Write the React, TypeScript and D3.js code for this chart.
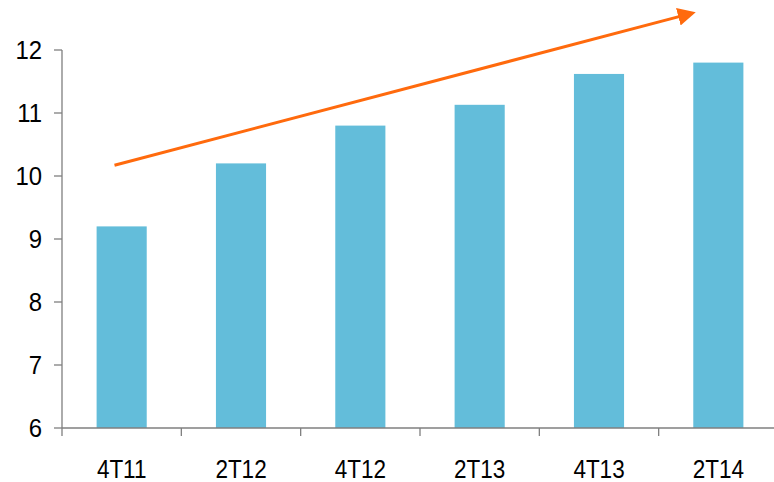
import React from 'react';
import * as d3 from 'd3';

const width = 774;
const height = 482;
const margin = { top: 50, right: -4, bottom: 54, left: 62 };

const categories = ['4T11', '2T12', '4T12', '2T13', '4T13', '2T14'];
const values = [9.2, 10.2, 10.8, 11.13, 11.62, 11.8];
const yTicks = [6, 7, 8, 9, 10, 11, 12];
// trend arrow, in (category index, value) units
const arrowFrom = [0.44, 10.17];
const arrowTo = [5.25, 12.57];

const barColor = '#63bdda';
const arrowColor = '#ff6a0d';
const axisColor = '#7f7f7f';
const font = 'Arial, "Liberation Sans", sans-serif';

export default function App() {
  const x = d3.scaleBand().domain(categories)
    .range([margin.left, width - margin.right]).paddingInner(0.58).paddingOuter(0.29);
  const y = d3.scaleLinear().domain([6, 12]).range([height - margin.bottom, margin.top]);
  const xi = d3.scaleLinear().domain([0, categories.length])
    .range([margin.left, width - margin.right]);

  const ax1 = xi(arrowFrom[0]), ay1 = y(arrowFrom[1]);
  const ax2 = xi(arrowTo[0]), ay2 = y(arrowTo[1]);

  const bottom = y(6);

  return (
    <svg width={width} height={height} style={{ position: 'absolute', left: 0, top: 0 }}>
      <defs>
        <marker id="head" markerWidth="6" markerHeight="6" refX="3.5" refY="3" orient="auto" markerUnits="strokeWidth">
          <path d="M0,0 L6,3 L0,6 Z" fill={arrowColor} />
        </marker>
      </defs>
      {categories.map((c, i) => (
        <rect key={c} x={x(c)} y={y(values[i])} width={x.bandwidth()} height={bottom - y(values[i])} fill={barColor} />
      ))}
      <g stroke={axisColor} strokeWidth={1.3}>
        <line x1={margin.left} x2={margin.left} y1={y(12)} y2={bottom} />
        <line x1={margin.left} x2={width} y1={bottom} y2={bottom} />
        {yTicks.map(t => (
          <line key={t} x1={margin.left - 8} x2={margin.left} y1={y(t)} y2={y(t)} />
        ))}
        {d3.range(categories.length + 1).map(i => (
          <line key={i} x1={xi(i)} x2={xi(i)} y1={bottom} y2={bottom + 8} />
        ))}
      </g>
      {yTicks.map(t => (
        <text key={t} transform={`translate(42,${y(t)}) scale(0.92,1)`} dy="0.36em" textAnchor="end"
          fontFamily={font} fontSize={26} fill="#000">{t}</text>
      ))}
      {categories.map(c => (
        <text key={c} transform={`translate(${x(c)! + x.bandwidth() / 2},478) scale(0.9,1)`} textAnchor="middle"
          fontFamily={font} fontSize={25} fill="#000">{c}</text>
      ))}
      <line x1={ax1} y1={ay1} x2={ax2} y2={ay2} stroke={arrowColor} strokeWidth={3} markerEnd="url(#head)" />
    </svg>
  );
}
